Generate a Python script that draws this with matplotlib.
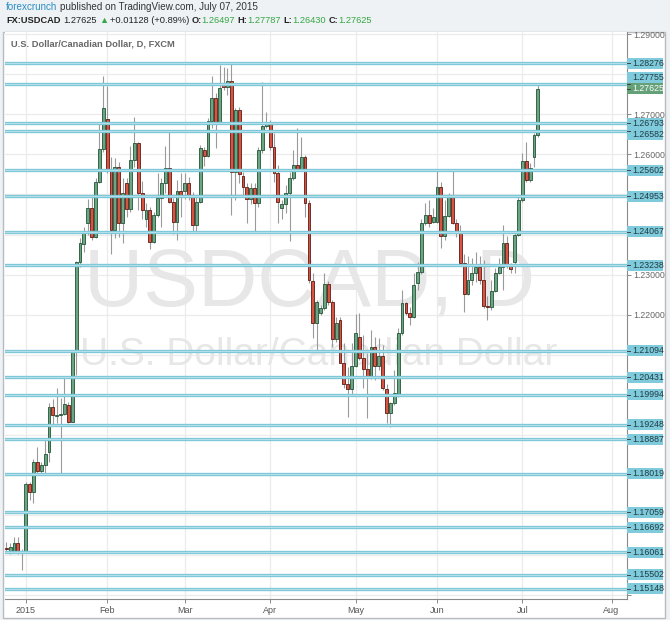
import numpy as np
import pandas as pd
import matplotlib
matplotlib.use("Agg")
import matplotlib.pyplot as plt
from matplotlib.patches import Rectangle
from matplotlib.lines import Line2D
from matplotlib.transforms import blended_transform_factory

plt.rcParams["font.family"] = ["Liberation Sans", "DejaVu Sans"]

W, H = 670, 620

# FXCM daily bars, no bars on Dec 25 and Jan 1
calendar = pd.bdate_range("2014-12-24", "2015-08-31")
calendar = calendar[~calendar.isin(pd.to_datetime(["2014-12-25", "2015-01-01"]))]

opens = [
    1.1617, 1.1610, 1.1610, 1.1630, 1.1608,
    1.1608, 1.1777, 1.1758, 1.1832, 1.1810, 1.1824, 1.1858, 1.1969, 1.1947, 1.1949,
    1.1952, 1.1974, 1.1933, 1.2110, 1.2332, 1.2376, 1.2430, 1.2465, 1.2395, 1.2532,
    1.2614, 1.2688, 1.2561, 1.2411, 1.2569, 1.2430, 1.2528, 1.2463, 1.2586, 1.2628,
    1.2504, 1.2438, 1.2461, 1.2382, 1.2450, 1.2492, 1.2528, 1.2565, 1.2482, 1.2432,
    1.2509, 1.2509, 1.2529, 1.2493, 1.2424, 1.2482, 1.2611, 1.2597, 1.2684, 1.2740,
    1.2682, 1.2778, 1.2769, 1.2784, 1.2557, 1.2711, 1.2546, 1.2518, 1.2488, 1.2515,
    1.2478, 1.2611, 1.2671, 1.2682, 1.2618, 1.2554, 1.2465, 1.2476, 1.2503, 1.2540,
    1.2574, 1.2563, 1.2593, 1.2479, 1.2285, 1.2178, 1.2205, 1.2216, 1.2276, 1.2232,
    1.2138, 1.2186, 1.2080, 1.2027, 1.2013, 1.2072, 1.2145, 1.2091, 1.2063, 1.2043,
    1.2120, 1.2072, 1.2097, 1.2013, 1.1953, 1.1978, 1.1999, 1.2155, 1.2228, 1.2203,
    1.2193, 1.2280, 1.2306, 1.2430, 1.2449, 1.2432, 1.2432, 1.2518, 1.2396, 1.2446,
    1.2499, 1.2430, 1.2405, 1.2330, 1.2251, 1.2286, 1.2305, 1.2320, 1.2286, 1.2222,
    1.2218, 1.2260, 1.2305, 1.2320, 1.2378, 1.2321, 1.2332, 1.2399, 1.2486, 1.2584,
    1.2536, 1.2593, 1.26497,
]
closes = [
    1.1615, 1.1619, 1.1630, 1.1606, 1.1609,
    1.1777, 1.1758, 1.1832, 1.1810, 1.1824, 1.1852, 1.1969, 1.1949, 1.1948, 1.1952,
    1.1977, 1.1933, 1.2110, 1.2332, 1.2379, 1.2410, 1.2465, 1.2395, 1.2532, 1.2614,
    1.2716, 1.2561, 1.2411, 1.2569, 1.2430, 1.2503, 1.2463, 1.2586, 1.2628, 1.2504,
    1.2461, 1.2461, 1.2382, 1.2450, 1.2492, 1.2528, 1.2565, 1.2482, 1.2432, 1.2509,
    1.2494, 1.2529, 1.2493, 1.2424, 1.2482, 1.2615, 1.2597, 1.2684, 1.2740, 1.2682,
    1.2765, 1.2769, 1.2784, 1.2557, 1.2711, 1.2550, 1.2518, 1.2488, 1.2515, 1.2478,
    1.2611, 1.2671, 1.2682, 1.2618, 1.2554, 1.2482, 1.2476, 1.2503, 1.2540, 1.2574,
    1.2563, 1.2593, 1.2479, 1.2286, 1.2178, 1.2232, 1.2216, 1.2276, 1.2232, 1.2138,
    1.2178, 1.2080, 1.2027, 1.2013, 1.2072, 1.2153, 1.2091, 1.2063, 1.2043, 1.2120,
    1.2072, 1.2097, 1.2016, 1.1953, 1.1978, 1.2005, 1.2155, 1.2228, 1.2203, 1.2193,
    1.2274, 1.2306, 1.2430, 1.2449, 1.2430, 1.2443, 1.2518, 1.2396, 1.2446, 1.2499,
    1.2430, 1.2405, 1.2330, 1.2251, 1.2286, 1.2305, 1.2320, 1.2286, 1.2222, 1.2218,
    1.2260, 1.2305, 1.2320, 1.2378, 1.2322, 1.2313, 1.2399, 1.2486, 1.2584, 1.2536,
    1.2565, 1.2649, 1.27625,
]
highs = [
    1.1633, 1.1630, 1.1644, 1.1644, 1.1615,
    1.1782, 1.1782, 1.1839, 1.1870, 1.1832, 1.1887, 1.1979, 1.1989, 1.2017, 1.1992,
    1.2045, 1.1982, 1.2112, 1.2334, 1.2391, 1.2420, 1.2489, 1.2499, 1.2541, 1.2679,
    1.2796, 1.2771, 1.2594, 1.2590, 1.2582, 1.2540, 1.2540, 1.2621, 1.2694, 1.2632,
    1.2534, 1.2478, 1.2469, 1.2457, 1.2553, 1.2540, 1.2621, 1.2661, 1.2490, 1.2536,
    1.2553, 1.2554, 1.2543, 1.2507, 1.2494, 1.2624, 1.2619, 1.2690, 1.2796, 1.2753,
    1.2823, 1.2819, 1.2816, 1.2832, 1.2715, 1.2719, 1.2557, 1.2528, 1.2528, 1.2528,
    1.2619, 1.2782, 1.2707, 1.2685, 1.2653, 1.2574, 1.2486, 1.2524, 1.2557, 1.2611,
    1.2665, 1.2644, 1.2599, 1.2486, 1.2303, 1.2236, 1.2224, 1.2303, 1.2285, 1.2236,
    1.2195, 1.2195, 1.2128, 1.2070, 1.2130, 1.2201, 1.2203, 1.2149, 1.2103, 1.2162,
    1.2144, 1.2141, 1.2124, 1.2026, 1.1982, 1.2062, 1.2166, 1.2261, 1.2232, 1.2220,
    1.2303, 1.2331, 1.2439, 1.2478, 1.2486, 1.2465, 1.2561, 1.2532, 1.2486, 1.2503,
    1.2561, 1.2440, 1.2424, 1.2351, 1.2346, 1.2341, 1.2356, 1.2346, 1.2336, 1.2246,
    1.2286, 1.2316, 1.2341, 1.2424, 1.2396, 1.2329, 1.2404, 1.2494, 1.2603, 1.2632,
    1.2578, 1.2653, 1.27787,
]
lows = [
    1.1605, 1.1602, 1.1605, 1.1602, 1.1562,
    1.1605, 1.1737, 1.1729, 1.1804, 1.1799, 1.1804, 1.1833, 1.1924, 1.1929, 1.1799,
    1.1949, 1.1930, 1.1932, 1.2049, 1.2320, 1.2357, 1.2399, 1.2386, 1.2391, 1.2528,
    1.2607, 1.2554, 1.2351, 1.2391, 1.2395, 1.2378, 1.2445, 1.2457, 1.2569, 1.2461,
    1.2440, 1.2420, 1.2363, 1.2380, 1.2445, 1.2420, 1.2503, 1.2478, 1.2401, 1.2386,
    1.2445, 1.2488, 1.2486, 1.2405, 1.2405, 1.2478, 1.2571, 1.2594, 1.2665, 1.2615,
    1.2678, 1.2761, 1.2748, 1.2449, 1.2486, 1.2528, 1.2494, 1.2428, 1.2476, 1.2407,
    1.2469, 1.2603, 1.2665, 1.2611, 1.2532, 1.2428, 1.2440, 1.2453, 1.2385, 1.2536,
    1.2561, 1.2561, 1.2445, 1.2279, 1.2142, 1.2107, 1.2199, 1.2211, 1.2224, 1.2120,
    1.2132, 1.2078, 1.2016, 1.1945, 1.1999, 1.2070, 1.2087, 1.2016, 1.1941, 1.2039,
    1.2037, 1.2062, 1.2012, 1.1929, 1.1920, 1.1974, 1.1995, 1.2149, 1.2199, 1.2174,
    1.2191, 1.2261, 1.2301, 1.2424, 1.2420, 1.2428, 1.2428, 1.2366, 1.2386, 1.2443,
    1.2426, 1.2395, 1.2326, 1.2206, 1.2249, 1.2274, 1.2281, 1.2276, 1.2216, 1.2186,
    1.2211, 1.2256, 1.2301, 1.2261, 1.2316, 1.2304, 1.2303, 1.2396, 1.2482, 1.2532,
    1.2532, 1.2569, 1.26430,
]

levels = [1.28276, 1.27755, 1.26793, 1.26582, 1.25602, 1.24953, 1.24067, 1.23238,
          1.21094, 1.20431, 1.19994, 1.19248, 1.18887, 1.18019, 1.17059, 1.16692,
          1.16061, 1.15502, 1.15148]
last_price = 1.27625
price_ticks = [1.15, 1.16, 1.17, 1.18, 1.19, 1.20, 1.21, 1.22, 1.23, 1.24,
               1.25, 1.26, 1.27, 1.28, 1.29]

# label boxes nudged apart where they would collide (pixels, + is down)
label_nudge = {1.27755: -6.5, 1.26793: 1.2, 1.26582: 3.6}

o = np.array(opens)
c = np.array(closes)
hi = np.array(highs)
lo = np.array(lows)
x = np.arange(len(o))

up_face, up_edge = "#6ba583", "#225437"
dn_face, dn_edge = "#d75442", "#5b1a13"
level_col = "#7fc8d8"
grid_col = "#ebebeb"

fig = plt.figure(figsize=(W / 100, H / 100), dpi=100, facecolor="#eef2f5")

# white chart panel (behind the axes)
fig.patches.append(Rectangle((3 / W, 2 / H), 662 / W, 586 / H, transform=fig.transFigure,
                             facecolor="white", edgecolor="#b8bcc0", lw=1.0, zorder=-1))

ax = fig.add_axes([5 / W, (H - 599) / H, 622 / W, 567 / H])
ax.set_facecolor("white")
ymin, ymax = 1.14897, 1.29058
ax.set_xlim(-0.33, 159.97)
ax.set_ylim(ymin, ymax)
ppx = (ymax - ymin) / 567.0

# month ticks
month_idx, month_lab = [], []
for period, grp in pd.Series(np.arange(len(calendar)), index=calendar).groupby(calendar.to_period("M")):
    if period.year == 2014:
        continue
    month_idx.append(grp.iloc[0])
    month_lab.append("2015" if period.month == 1 else period.strftime("%b"))

for m in month_idx:
    ax.axvline(m, color=grid_col, lw=0.9, zorder=0.5)
for t in price_ticks:
    ax.axhline(t, color=grid_col, lw=0.9, zorder=0.5)

# watermark
ax.text(0.49, 0.555, "USDCAD, D", transform=ax.transAxes, ha="center", va="center",
        fontsize=59, color="#e7e7e7", zorder=0.6)
ax.text(0.505, 0.43, "U.S. Dollar/Canadian Dollar", transform=ax.transAxes, ha="center",
        va="center", fontsize=28, color="#e7e7e7", zorder=0.6)

# candles
rising = c >= o
ax.vlines(x, lo, hi, color="#9a9a9a", lw=0.8, zorder=2)
body = np.maximum(np.abs(c - o), 0.00004)
ax.bar(x[rising], body[rising], bottom=o[rising], width=0.74, color=up_face,
       edgecolor=up_edge, lw=0.6, zorder=3)
ax.bar(x[~rising], body[~rising], bottom=c[~rising], width=0.74, color=dn_face,
       edgecolor=dn_edge, lw=0.6, zorder=3)

# horizontal levels
for lv in levels:
    ax.axhline(lv, color=level_col, lw=2.4, zorder=4)
    ax.axhline(lv, color="#b4e0ea", lw=0.7, zorder=4.1)

# axes styling
for side in ["top", "left"]:
    ax.spines[side].set_visible(False)
ax.spines["right"].set_color("#8a8a8a")
ax.spines["bottom"].set_color("#8a8a8a")
ax.yaxis.tick_right()
ax.set_yticks(price_ticks)
# scale labels that sit under a level box are not shown
box_centres = [lv - label_nudge.get(lv, 0.0) * ppx for lv in levels] + [last_price]
tick_text = []
for t in price_ticks:
    covered = any(abs(t - bc) < 0.0019 for bc in box_centres)
    tick_text.append("" if covered else f"{t:.5f}")
ax.set_yticklabels(tick_text)
ax.tick_params(axis="y", length=3, width=0.6, color="#777", labelsize=6.3,
               labelcolor="#666", pad=1.5)
ax.set_xticks(month_idx)
ax.set_xticklabels(month_lab)
ax.tick_params(axis="x", length=3, width=0.6, color="#777", labelsize=6.5,
               labelcolor="#555", pad=2)

# price labels on the right scale
tr = blended_transform_factory(ax.transAxes, ax.transData)
box_w = 36 / 622


def price_box(value, face, text_col, nudge=0.0):
    yc = value - nudge * ppx
    ax.add_patch(Rectangle((1.0, yc - 5.5 * ppx), box_w, 11 * ppx, transform=tr,
                           facecolor=face, edgecolor="none", clip_on=False, zorder=6))
    ax.add_line(Line2D([1.0, 1.0 + 3 / 622], [value, value], transform=tr, color="#444",
                       lw=0.7, clip_on=False, zorder=7))
    ax.text(1.0 + 5 / 622, yc, f"{value:.5f}", transform=tr, ha="left", va="center",
            fontsize=6.3, color=text_col, clip_on=False, zorder=7)


for lv in levels:
    price_box(lv, "#7fcadb", "#1f3c44", label_nudge.get(lv, 0.0))
price_box(last_price, "#64a078", "white", -1.3)

# title inside the pane
fig.text(11 / W, 1 - 44 / H, "U.S. Dollar/Canadian Dollar, D, FXCM", fontsize=6.7,
         fontweight="bold", color="#666", va="center", ha="left")

# header lines, laid out piece by piece
renderer = fig.canvas.get_renderer()


def header_line(y, pieces, x0=6.0, size=7.0):
    xp = x0
    for text, color, weight, gap in pieces:
        t = fig.text(xp / W, 1 - y / H, text, fontsize=size, color=color, fontweight=weight,
                     va="center", ha="left")
        xp = t.get_window_extent(renderer).x1 + gap


green = "#36a845"
dark = "#222"
header_line(7.5, [("forexcrunch", "#2b8cc4", "normal", 3),
                  ("published on TradingView.com, July 07, 2015", "#333", "normal", 0)],
            size=7.1)
header_line(20.5, [("FX:USDCAD", dark, "bold", 2.5),
                   ("1.27625", dark, "normal", 2.5),
                   ("\u25b2", green, "normal", 1.5),
                   ("+0.01128 (+0.89%)", dark, "normal", 2.5),
                   ("O:", dark, "bold", 0), ("1.26497", green, "normal", 2.5),
                   ("H:", dark, "bold", 0), ("1.27787", green, "normal", 2.5),
                   ("L:", dark, "bold", 0), ("1.26430", green, "normal", 2.5),
                   ("C:", dark, "bold", 0), ("1.27625", green, "normal", 0)],
            size=6.7)

fig.savefig("out.png", dpi=100, facecolor=fig.get_facecolor())
